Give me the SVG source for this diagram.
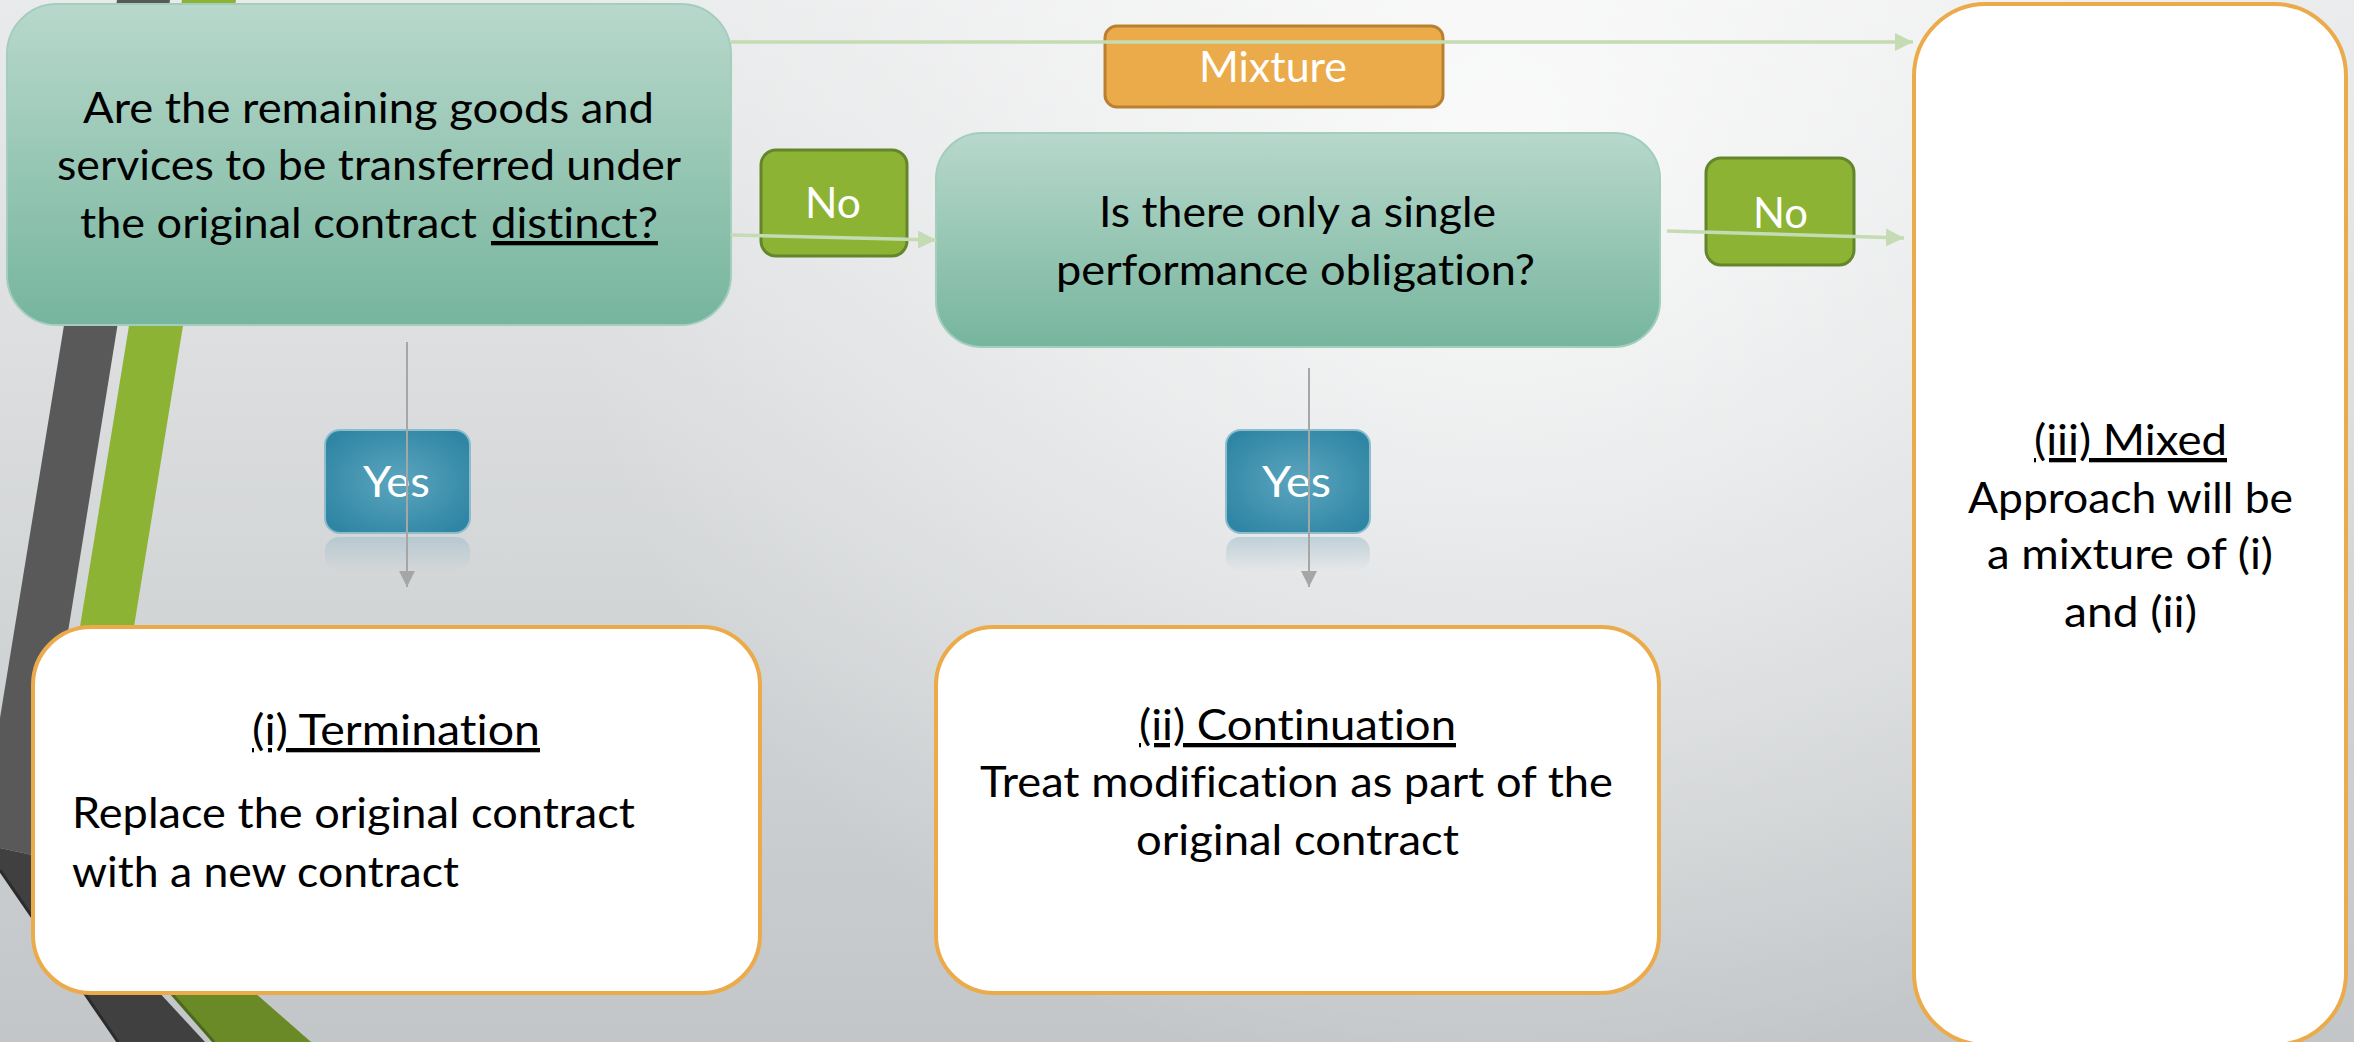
<svg xmlns="http://www.w3.org/2000/svg" width="2354" height="1042" viewBox="0 0 2354 1042">
  <style>
    .t { font-family: Lato, "Open Sans", "Liberation Sans", sans-serif; font-size: 43px; fill: #000; font-variant-ligatures: none; }
    .w { fill: #fff; }
    .u { text-decoration: underline; text-decoration-skip-ink: none; }
    .q { fill: url(#qFill); stroke: #a3cdbd; stroke-width: 2; }
    .res { fill: #fff; stroke: #ebab4b; stroke-width: 4; }
    .no { fill: #8cb334; stroke: #64862a; stroke-width: 3; }
    .yes { fill: url(#yesFill); stroke: #8dbccd; stroke-width: 2; }
    .refl { fill: url(#reflFill); }
    .flow { fill: none; stroke: #c4dbb3; stroke-width: 3.5; }
    .drop { fill: none; stroke: #a6a6a6; stroke-width: 2; }
  </style>
  <defs>
    <linearGradient id="bgBase" x1="0" y1="0" x2="0" y2="1">
      <stop offset="0" stop-color="#e9eaeb"/>
      <stop offset="1" stop-color="#c2c6c8"/>
    </linearGradient>
    <radialGradient id="bgGlow" gradientUnits="userSpaceOnUse" cx="1500" cy="150" r="950">
      <stop offset="0" stop-color="#ffffff" stop-opacity="0.8"/>
      <stop offset="1" stop-color="#ffffff" stop-opacity="0"/>
    </radialGradient>
    <linearGradient id="qFill" x1="0" y1="0" x2="0" y2="1">
      <stop offset="0" stop-color="#b8d8cc"/>
      <stop offset="1" stop-color="#76b59e"/>
    </linearGradient>
    <radialGradient id="yesFill" cx="0.5" cy="0.5" r="0.6">
      <stop offset="0" stop-color="#5ca5bf"/>
      <stop offset="1" stop-color="#2f86a4"/>
    </radialGradient>
    <linearGradient id="reflFill" x1="0" y1="0" x2="0" y2="1">
      <stop offset="0" stop-color="#9fbccb" stop-opacity="0.55"/>
      <stop offset="1" stop-color="#9fbccb" stop-opacity="0"/>
    </linearGradient>
    <marker id="headGreen" markerUnits="userSpaceOnUse" markerWidth="18" markerHeight="18" viewBox="0 0 16 16" refX="16" refY="8" orient="auto">
      <path d="M0,0 L16,8 L0,16 Z" fill="#c4dbb3"/>
    </marker>
    <marker id="headGray" markerUnits="userSpaceOnUse" markerWidth="16" markerHeight="16" viewBox="0 0 14 14" refX="14" refY="7" orient="auto">
      <path d="M0,0 L14,7 L0,14 Z" fill="#a6a6a6"/>
    </marker>
  </defs>

  <!-- backdrop -->
  <g id="background">
    <rect x="0" y="0" width="2354" height="1042" fill="url(#bgBase)"/>
    <rect x="0" y="0" width="2354" height="1042" fill="url(#bgGlow)"/>
  </g>

  <!-- folded side bands -->
  <g id="bands">
    <polygon points="117,0 170,0 32,855 0,848 0,718" fill="#595959"/>
    <polygon points="0,848 32,855 205,1042 118,1042 0,870" fill="#404040"/>
    <line x1="0" y1="870" x2="118" y2="1042" stroke="#2b2b2b" stroke-width="3"/>
    <polygon points="182,0 236,0 97,854 44,848" fill="#8cb334"/>
    <polygon points="44,848 97,854 311,1042 214,1042" fill="#6a8a28"/>
    <line x1="44" y1="848" x2="214" y2="1042" stroke="#4d671b" stroke-width="3"/>
  </g>

  <g id="q-distinct">
    <rect class="q" x="7" y="4" width="724" height="321" rx="50"/>
    <text class="t" x="83" y="123" textLength="571" lengthAdjust="spacingAndGlyphs">Are the remaining goods and</text>
    <text class="t" x="57" y="180" textLength="624" lengthAdjust="spacingAndGlyphs">services to be transferred under</text>
    <text class="t" x="80" y="238" textLength="397" lengthAdjust="spacingAndGlyphs">the original contract</text>
    <text class="t u" x="491" y="238" textLength="167" lengthAdjust="spacingAndGlyphs">distinct?</text>
  </g>

  <g id="label-mixture">
    <rect x="1105" y="26" width="338" height="81" rx="12" fill="#ebab4b" stroke="#b9812f" stroke-width="3"/>
    <text class="t w" x="1199" y="82" textLength="148" lengthAdjust="spacingAndGlyphs">Mixture</text>
  </g>

  <g id="label-no-1">
    <rect class="no" x="761" y="150" width="146" height="106" rx="15"/>
    <text class="t w" x="805" y="218" textLength="56" lengthAdjust="spacingAndGlyphs">No</text>
  </g>

  <g id="q-single">
    <rect class="q" x="936" y="133" width="724" height="214" rx="46"/>
    <text class="t" x="1099" y="227" textLength="397" lengthAdjust="spacingAndGlyphs">Is there only a single</text>
    <text class="t" x="1056" y="285" textLength="479" lengthAdjust="spacingAndGlyphs">performance obligation?</text>
  </g>

  <g id="label-no-2">
    <rect class="no" x="1706" y="158" width="148" height="107" rx="15"/>
    <text class="t w" x="1753" y="228" textLength="55" lengthAdjust="spacingAndGlyphs">No</text>
  </g>

  <g id="label-yes-1">
    <rect class="refl" x="325" y="537" width="145" height="34" rx="14"/>
    <rect class="yes" x="325" y="430" width="145" height="103" rx="15"/>
    <text class="t w" x="363" y="497" textLength="67" lengthAdjust="spacingAndGlyphs">Yes</text>
  </g>

  <g id="label-yes-2">
    <rect class="refl" x="1226" y="537" width="144" height="34" rx="14"/>
    <rect class="yes" x="1226" y="430" width="144" height="103" rx="15"/>
    <text class="t w" x="1262" y="497" textLength="69" lengthAdjust="spacingAndGlyphs">Yes</text>
  </g>

  <g id="result-termination">
    <rect class="res" x="33" y="627" width="727" height="366" rx="58"/>
    <text class="t u" x="252" y="745" textLength="288" lengthAdjust="spacingAndGlyphs">(i) Termination</text>
    <text class="t" x="72" y="828" textLength="563" lengthAdjust="spacingAndGlyphs">Replace the original contract</text>
    <text class="t" x="72" y="887" textLength="387" lengthAdjust="spacingAndGlyphs">with a new contract</text>
  </g>

  <g id="result-continuation">
    <rect class="res" x="936" y="627" width="723" height="366" rx="58"/>
    <text class="t u" x="1139" y="740" textLength="317" lengthAdjust="spacingAndGlyphs">(ii) Continuation</text>
    <text class="t" x="980" y="797" textLength="633" lengthAdjust="spacingAndGlyphs">Treat modification as part of the</text>
    <text class="t" x="1136" y="855" textLength="323" lengthAdjust="spacingAndGlyphs">original contract</text>
  </g>

  <g id="result-mixed">
    <rect class="res" x="1914" y="4" width="432" height="1041" rx="72"/>
    <text class="t u" x="2034" y="455" textLength="193" lengthAdjust="spacingAndGlyphs">(iii) Mixed</text>
    <text class="t" x="1968" y="513" textLength="325" lengthAdjust="spacingAndGlyphs">Approach will be</text>
    <text class="t" x="1987" y="569" textLength="286" lengthAdjust="spacingAndGlyphs">a mixture of (i)</text>
    <text class="t" x="2064" y="627" textLength="133" lengthAdjust="spacingAndGlyphs">and (ii)</text>
  </g>

  <g id="connectors">
    <path class="flow" d="M731,42 L1913,42" marker-end="url(#headGreen)"/>
    <path class="flow" d="M731,235 L936,240" marker-end="url(#headGreen)"/>
    <path class="flow" d="M1667,231 L1904,238" marker-end="url(#headGreen)"/>
    <path class="drop" d="M407,342 L407,587" marker-end="url(#headGray)"/>
    <path class="drop" d="M1309,368 L1309,587" marker-end="url(#headGray)"/>
  </g>
</svg>
